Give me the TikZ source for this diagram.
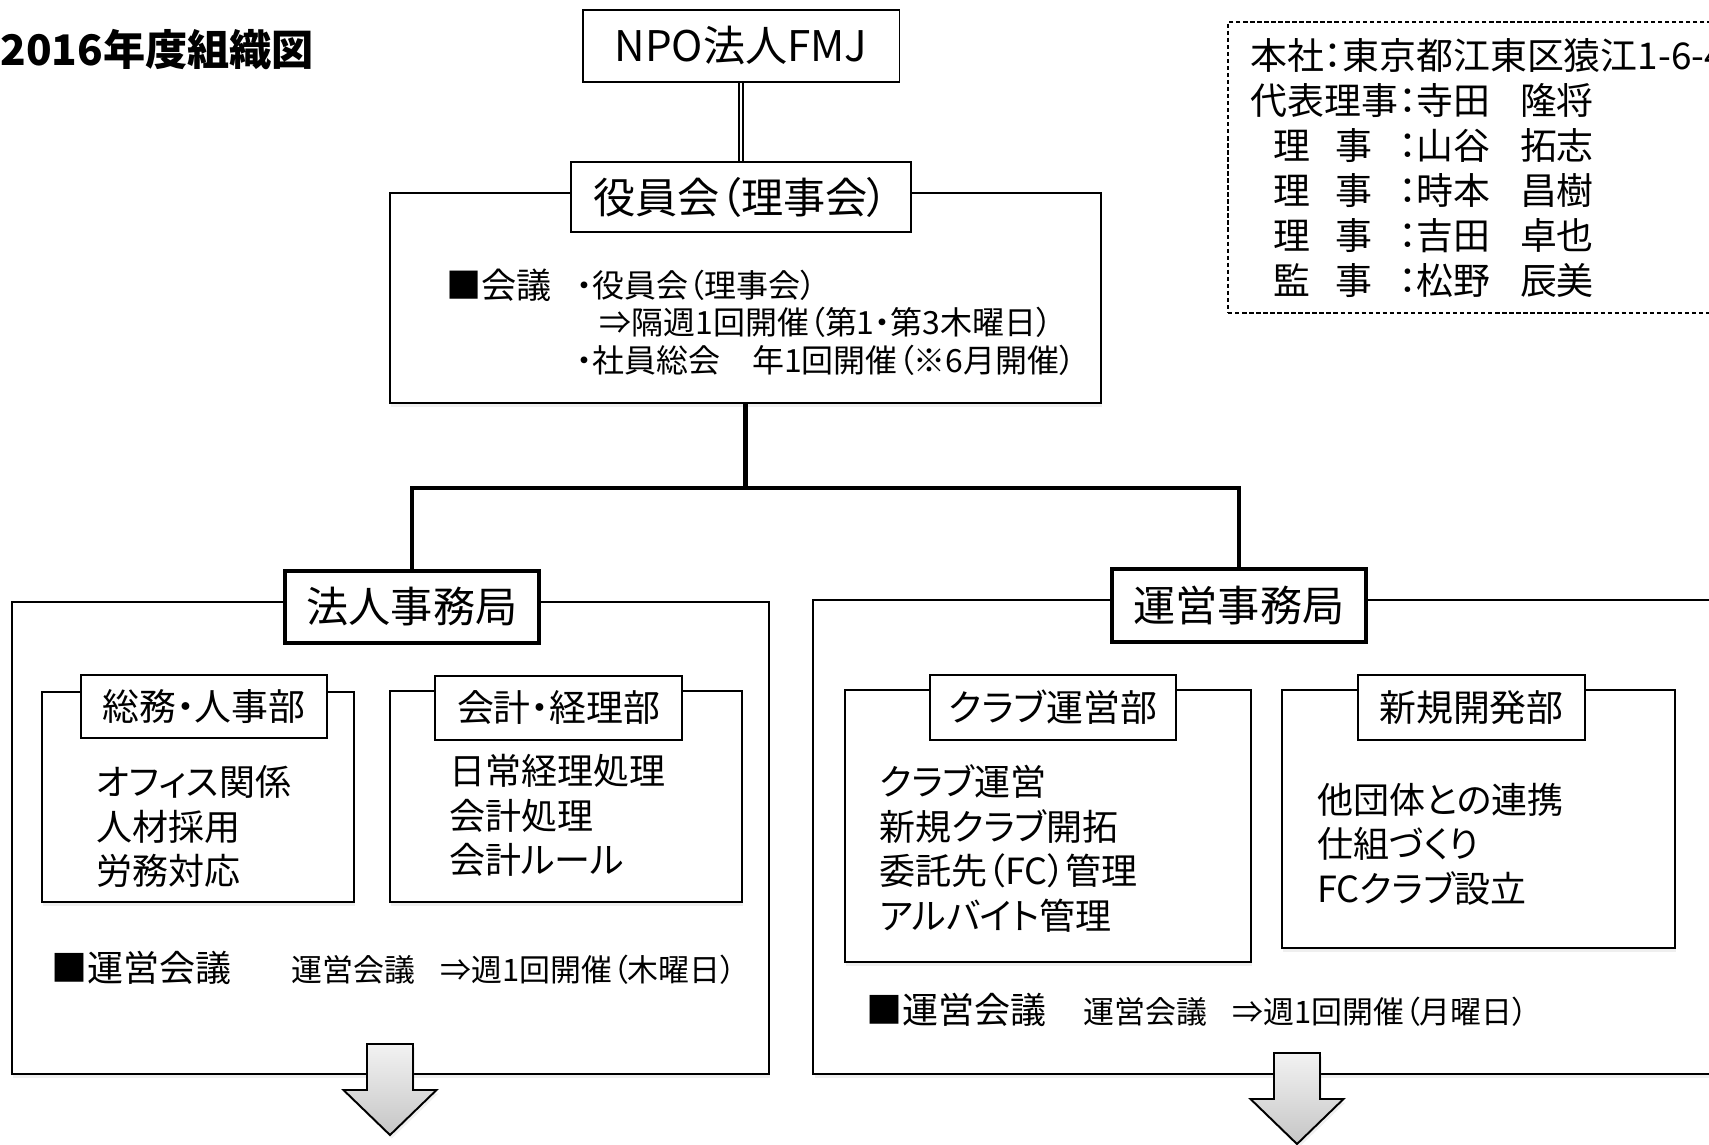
\documentclass[tikz,border=0pt]{standalone}
\usepackage{fontspec}
\setmainfont{Noto Sans CJK JP}[RawFeature=+palt]
\usetikzlibrary{shadows}

\tikzset{
  flowarrow/.pic={
    \path[draw=black,line width=1.1pt,top color=gray!10,bottom color=gray!45,
          drop shadow={shadow xshift=1pt,shadow yshift=-2pt,opacity=.12}]
      (-23,0) -- (23,0) -- (23,46) -- (46.5,46) -- (0,91) -- (-46.5,46) -- (-23,46) -- cycle;
  }
}

\begin{document}
\begin{tikzpicture}[x=0.02cm,y=-0.02cm,
  box/.style={draw,line width=1.1pt,fill=white,inner sep=0pt},
  frame/.style={box,drop shadow={shadow xshift=.8pt,shadow yshift=-2.2pt,opacity=.12}},
  headbox/.style={box,line width=2.3pt},
  txt/.style={anchor=west,inner sep=0pt,align=left},
  oneline/.style={anchor=base west,inner sep=0pt},
  trunk/.style={line width=2.6pt},
  big/.style={font=\fontsize{24}{29}\selectfont},
  mid/.style={font=\fontsize{21}{25}\selectfont},
  item/.style={font=\fontsize{20.5}{25.3}\selectfont},
  small/.style={font=\fontsize{17.6}{21}\selectfont}]
   \useasboundingbox (0,0) rectangle (1709,1144);

   \node[oneline,font=\fontsize{24}{29}\selectfont\bfseries] (title) at (0,65) {2016年度組織図};

   \node[box,big,minimum width=6.34cm,minimum height=1.44cm] (npo) at (741,46) {NPO法人FMJ};
   \node[frame,minimum width=14.22cm,minimum height=4.2cm] (boardframe) at (745.5,298) {};
   \node[box,big,minimum width=6.8cm,minimum height=1.4cm] (board) at (741,197) {役員会（理事会）};
   \draw[double,line width=.8pt,double distance=1.6pt] (npo.south) -- (board.north);

   \node[oneline,font=\fontsize{20}{24}\selectfont] (mtg) at (446,298) {■会議};
   \node[txt,font=\fontsize{18.2}{21.3}\selectfont] (mtglist) at (576,322.5)
     {・役員会（理事会）\\\hspace*{.72em}⇒隔週1回開催（第1・第3木曜日）\\・社員総会\hspace{1em}年1回開催（※6月開催）};

   \draw[trunk] (boardframe.south) -- ++(0,84) coordinate (split);

   \node[frame,minimum width=15.14cm,minimum height=9.44cm] (corpframe) at (390.5,838) {};
   \node[frame,minimum width=18.34cm,minimum height=9.48cm] (opsframe) at (1271.5,837) {};
   \node[headbox,big,minimum width=5.08cm,minimum height=1.44cm] (corp) at (412,607) {法人事務局};
   \node[headbox,big,minimum width=5.08cm,minimum height=1.46cm] (ops) at (1239,605.5) {運営事務局};
   \draw[trunk] (corp.north) |- (split) -| (ops.north);

   \node[frame,minimum width=6.24cm,minimum height=4.2cm] (gaframe) at (198,797) {};
   \node[box,mid,minimum width=4.92cm,minimum height=1.26cm] (ga) at (204,706.5) {総務・人事部};
   \node[txt,item] (gaitems) at (96,826.5) {オフィス関係\\人材採用\\労務対応};

   \node[frame,minimum width=7.04cm,minimum height=4.22cm] (accframe) at (566,796.5) {};
   \node[box,mid,minimum width=4.94cm,minimum height=1.28cm] (acc) at (558.5,708) {会計・経理部};
   \node[txt,item] (accitems) at (449,815.5) {日常経理処理\\会計処理\\会計ルール};

   \node[frame,minimum width=8.12cm,minimum height=5.44cm] (clubframe) at (1048,826) {};
   \node[box,mid,minimum width=4.92cm,minimum height=1.3cm] (club) at (1053,707.5) {クラブ運営部};
   \node[txt,item] (clubitems) at (879,848.5) {クラブ運営\\新規クラブ開拓\\委託先（FC）管理\\アルバイト管理};

   \node[frame,minimum width=7.86cm,minimum height=5.16cm] (devframe) at (1478.5,819) {};
   \node[box,mid,minimum width=4.54cm,minimum height=1.3cm] (dev) at (1471.5,707.5) {新規開発部};
   \node[txt,item] (devitems) at (1317,844) {他団体との連携\\仕組づくり\\FCクラブ設立};

   \node[oneline,item] (corpmtg) at (51,981) {■運営会議};
   \node[oneline,small] (corpmtgtext) at (291,981) {運営会議\hspace{.83em}⇒週1回開催（木曜日）};
   \node[oneline,item] (opsmtg) at (866,1023) {■運営会議};
   \node[oneline,small] (opsmtgtext) at (1083,1023) {運営会議\hspace{.83em}⇒週1回開催（月曜日）};

   \pic at (390,1044) {flowarrow};
   \pic at (1297,1053) {flowarrow};

   \node[draw,line width=.8pt,dash pattern=on 2.5pt off 1.5pt,minimum width=10.64cm,minimum height=5.82cm] (roster) at (1494,167.5) {};
   \node[oneline,mid] (hq) at (1250,69) {本社：東京都江東区猿江1-6-4};
   \node[oneline,mid] (rep) at (1250,114) {代表理事};
   \node[oneline,mid] (repname) at (1398,114) {：寺田\hspace{.8em}隆将};
   \foreach \r/\n [count=\i] in {理/山谷\hspace{.8em}拓志,理/時本\hspace{.8em}昌樹,理/吉田\hspace{.8em}卓也,監/松野\hspace{.8em}辰美}{
     \node[oneline,mid] (role\i) at (1273,114+45*\i) {\r\hspace{.68em}事};
     \node[oneline,mid] (name\i) at (1398,114+45*\i) {：\n};
   }
\end{tikzpicture}
\end{document}
